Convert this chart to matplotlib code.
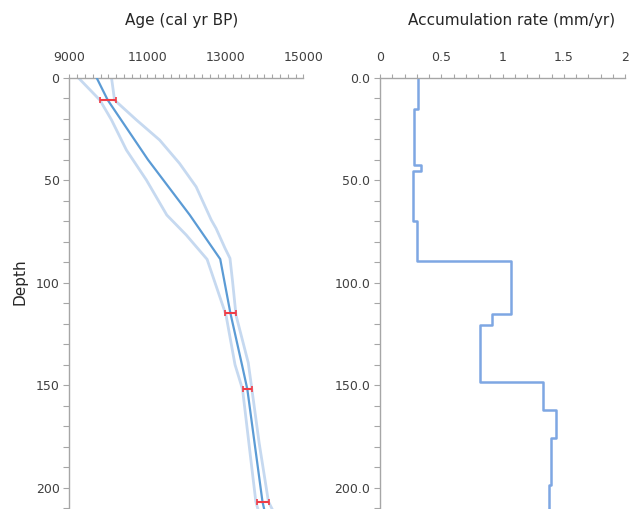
import numpy as np
import matplotlib.pyplot as plt
from matplotlib.ticker import MultipleLocator, FormatStrFormatter

# ---------------- data ----------------
# age model (depth in cm, age in cal yr BP)
meanDepth = [0, 10.9, 40, 67, 88.5, 114.6, 140, 152, 206.8, 210.4]
meanAge = [9700, 9985, 11017, 12090, 12870, 13128, 13427, 13565, 13953, 13996]

upDepth = [0, 10.9, 20.6, 30.4, 41.8, 53.2, 69.4, 73.5, 83.2, 88.1, 99.5, 115.8, 139, 152, 178.3, 206.8, 210.4]
upAge = [10082, 10160, 10721, 11316, 11826, 12252, 12640, 12763, 12993, 13120, 13187, 13274, 13588, 13682, 13869, 14106, 14200]

loDepth = [0, 10.9, 20.6, 35.3, 49.9, 67, 76.7, 88.6, 115.8, 140, 152, 186.5, 206.8, 210.4]
loAge = [9230, 9784, 10082, 10465, 10976, 11500, 11997, 12533, 13018, 13249, 13442, 13656, 13783, 13835]

# dated levels with their age ranges
dateDepth = [10.9, 114.6, 152, 206.8]
dateAge = [9992, 13133, 13562, 13962]
dateErr = [208, 140, 120, 162]

# accumulation rate (mm/yr), step intervals
rateTop = [0, 15.3, 42.8, 45.7, 70.1, 89.5, 115.5, 120.4, 148.5, 162.2, 175.9, 198.8]
rateBot = [15.3, 42.8, 45.7, 70.1, 89.5, 115.5, 120.4, 148.5, 162.2, 175.9, 198.8, 210.4]
rate = [0.308, 0.280, 0.332, 0.272, 0.299, 1.069, 0.912, 0.816, 1.333, 1.434, 1.393, 1.382]

ageTicks = [9000, 11000, 13000, 15000]
rateTicks = [0, 0.5, 1, 1.5, 2]

# ---------------- figure ----------------
W, H = 633, 509
fig = plt.figure(figsize=(W / 100, H / 100), dpi=100)

axTop = 77.7
ax1 = fig.add_axes([69.3 / W, 0, (303.3 - 69.3) / W, (H - axTop) / H])
ax2 = fig.add_axes([380 / W, 0, (625 - 380) / W, (H - axTop) / H])

gray = '#a6a6a6'
txt = '#404040'

ax1.plot(loAge, loDepth, color='#c6d9f0', lw=2.0, zorder=2)
ax1.plot(upAge, upDepth, color='#c6d9f0', lw=2.0, zorder=2)
ax1.plot(meanAge, meanDepth, color='#5b9bd5', lw=1.6, zorder=3)
ax1.errorbar(dateAge, dateDepth, xerr=dateErr, fmt='none', ecolor='#f03c46',
             elinewidth=1.5, capsize=2.5, capthick=1.2, zorder=4)

ax1.set_xlim(9000, 15000)
ax1.set_xticks(ageTicks)
ax1.xaxis.set_minor_locator(MultipleLocator(200))

# step line for accumulation rate
xs, ys = [], []
for t, b, r in zip(rateTop, rateBot, rate):
    xs += [r, r]
    ys += [t, b]
ax2.plot(xs, ys, color='#7ea7e3', lw=1.8)
ax2.set_xlim(0, 2)
ax2.set_xticks(rateTicks)
ax2.xaxis.set_minor_locator(MultipleLocator(0.1))
ax2.xaxis.set_major_formatter(lambda v, p: f"{v:g}")
ax2.yaxis.set_major_formatter(FormatStrFormatter('%.1f'))

for ax in (ax1, ax2):
    ax.set_ylim(210.4, 0)
    ax.yaxis.set_major_locator(MultipleLocator(50))
    ax.yaxis.set_minor_locator(MultipleLocator(10))
    ax.xaxis.tick_top()
    for s in ('right', 'bottom'):
        ax.spines[s].set_visible(False)
    for s in ('left', 'top'):
        ax.spines[s].set_color(gray)
        ax.spines[s].set_linewidth(1.0)
    ax.tick_params(axis='x', which='both', direction='out', length=3, width=0.8,
                   color=gray, labelcolor=txt, labelsize=9, pad=7)
    ax.tick_params(axis='y', which='both', direction='out', length=4, width=0.8,
                   color=gray, labelcolor=txt, labelsize=9, pad=3)

fig.text(181.7 / W, 1 - 20 / H, 'Age (cal yr BP)', ha='center', va='center',
         fontsize=11, color='#262626')
fig.text(511.7 / W, 1 - 20 / H, 'Accumulation rate (mm/yr)', ha='center', va='center',
         fontsize=11, color='#262626')
fig.text(20 / W, 1 - 282 / H, 'Depth', ha='center', va='center', rotation=90,
         fontsize=11, color='#262626')

fig.savefig('out.png', dpi=100)
